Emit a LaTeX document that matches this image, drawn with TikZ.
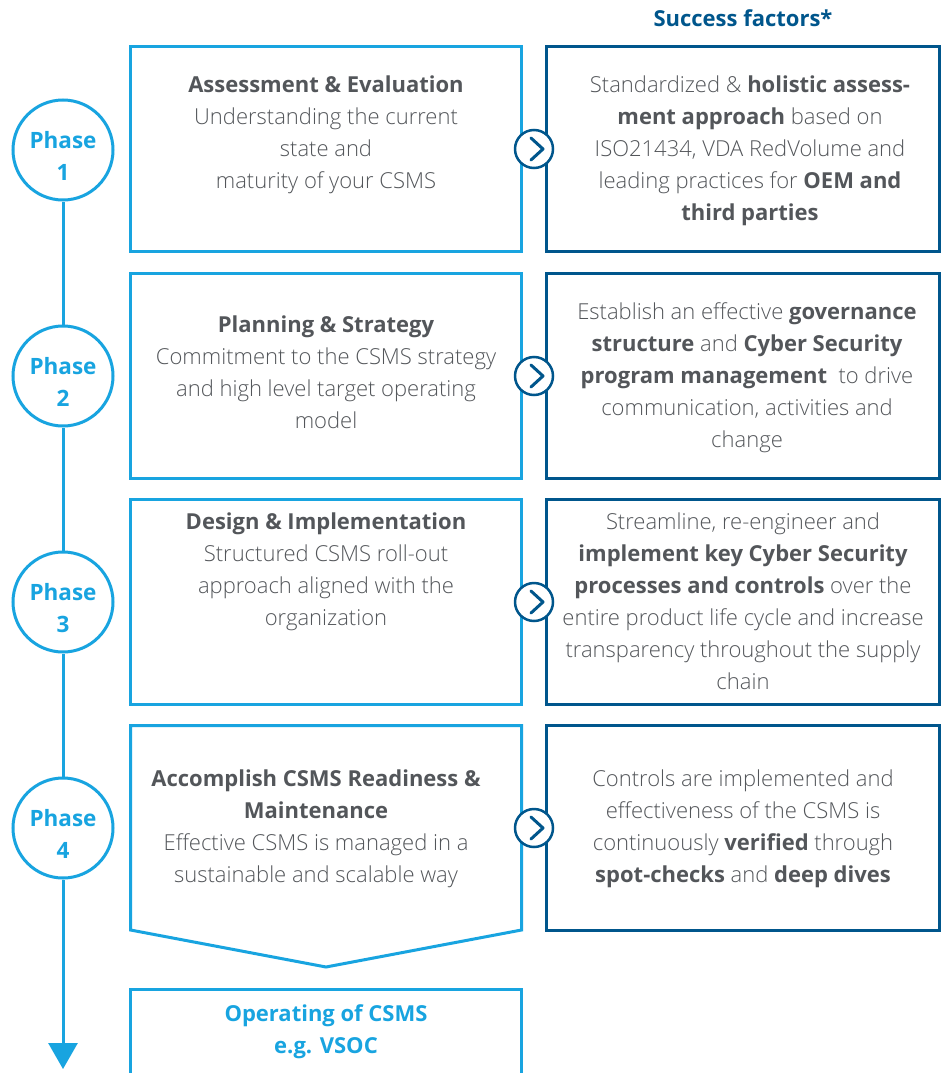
\documentclass[tikz,border=0pt]{standalone}
\usepackage{fontspec}
\setmainfont{Open Sans}
\newfontfamily\osans{Open Sans}
\IfFontExistsTF{Open Sans Light}{\newfontfamily\lightfont{Open Sans Light}}{\newfontfamily\lightfont{Open Sans}}
\newcommand\hb[1]{{\osans\bfseries #1}}
\usetikzlibrary{arrows.meta}
\definecolor{lblue}{RGB}{24,164,224}
\definecolor{dblue}{RGB}{0,86,140}
\definecolor{tgray}{RGB}{83,86,90}
\begin{document}
\begin{tikzpicture}[x=1pt,y=-1pt,
  lbox/.style={draw=lblue, line width=3pt, rectangle, minimum width=391pt, minimum height=205pt, inner sep=0pt},
  rbox/.style={draw=dblue, line width=3pt, rectangle, minimum width=393pt, minimum height=205pt, inner sep=0pt},
  txt/.style={align=center, text=tgray, font=\fontsize{22}{32}\selectfont\lightfont, inner sep=0pt},
  phase/.style={circle, draw=lblue, line width=3pt, fill=white, minimum size=100pt, inner sep=0pt},
  phasetxt/.style={align=center, text=lblue, font=\fontsize{22.5}{32}\selectfont\osans\bfseries, inner sep=0pt},
  chev/.style={circle, draw=dblue, line width=2.5pt, fill=white, minimum size=38pt, inner sep=0pt},
  chevline/.style={draw=dblue, line width=3pt, line cap=round, line join=round},
  flow/.style={draw=lblue, line width=3pt}
]
\clip (0,0) rectangle (945,1073);
\fill[white] (0,0) rectangle (945,1073);

% title
\node[text=dblue, font=\fontsize{22}{26}\selectfont\osans\bfseries, inner sep=0pt] (title) at (743,18) {Success factors*};

% left boxes
\node[lbox] (l1) at (326,149) {};
\node[lbox] (l2) at (326,376) {};
\node[lbox] (l3) at (326,602) {};
\draw[draw=lblue, line width=3pt, line join=miter] (130.5,725.5) -- (521.5,725.5) -- (521.5,930) -- (326,967) -- (130.5,930) -- cycle;
\coordinate (l4) at (326,828);
\draw[draw=lblue, line width=3pt] (130.5,1100) -- (130.5,989.5) -- (521.5,989.5) -- (521.5,1100);
\coordinate (l5) at (326,1030);

% right boxes
\node[rbox] (r1) at (743,149) {};
\node[rbox] (r2) at (743,376) {};
\node[rbox] (r3) at (743,602) {};
\node[rbox] (r4) at (743,828) {};

% phase circles and flow line
\node[phase] (p1) at (63,150) {};
\node[phase] (p2) at (63,376) {};
\node[phase] (p3) at (63,602) {};
\node[phase] (p4) at (63,828) {};
\coordinate (pend) at (63,1069);
\draw[flow] (p1.south) -- (p2.north);
\draw[flow] (p2.south) -- (p3.north);
\draw[flow] (p3.south) -- (p4.north);
\draw[flow, -{Triangle[width=29pt,length=26pt]}] (p4.south) -- (pend);

\node[phasetxt] at (63,156) {Phase\\1};
\node[phasetxt] at (63,382) {Phase\\2};
\node[phasetxt] at (63,608) {Phase\\3};
\node[phasetxt] at (63,834) {Phase\\4};

% chevrons
\foreach \n/\y in {c1/149,c2/376,c3/602,c4/828}{
  \node[chev] (\n) at (534,\y) {};
  \draw[chevline] ([shift={(-3,-11)}]\n.center) -- ([shift={(9,0)}]\n.center) -- ([shift={(-3,11)}]\n.center);
}

% left texts
\node[txt] (t1) at (326,135) {\hb{Assessment \& Evaluation}\\Understanding the current\\state and\\maturity of your CSMS};
\node[txt] (t2) at (326,372) {\hb{Planning \& Strategy}\\Commitment to the CSMS strategy\\and high level target operating\\model};
\node[txt] (t3) at (326,572) {\hb{Design \& Implementation}\\Structured CSMS roll-out\\approach aligned with the\\organization};
\node[txt] (t4) at (316,829) {\hb{Accomplish CSMS Readiness \&}\\\hb{Maintenance}\\Effective CSMS is managed in a\\sustainable and scalable way};
\node[txt, text=lblue] (t5) at (326,1032) {\hb{Operating of CSMS}\\\hb{e.g. VSOC}};

% right texts
\node[txt] (s1) at (750,151) {Standardized \& \hb{holistic assess-}\\\hb{ment approach} based on\\ISO21434, VDA RedVolume and\\leading practices for \hb{OEM and}\\\hb{third parties}};
\node[txt] (s2) at (747,378) {Establish an effective \hb{governance}\\\hb{structure} and \hb{Cyber Security}\\\hb{program management}\ \ to drive\\communication, activities and\\change};
\node[txt] (s3) at (743,601) {Streamline, re-engineer and\\\hb{implement key Cyber Security}\\\hb{processes and controls} over the\\entire product life cycle and increase\\transparency throughout the supply\\chain};
\node[txt] (s4) at (743,829) {Controls are implemented and\\effectiveness of the CSMS is\\continuously \hb{verified} through\\\hb{spot-checks} and \hb{deep dives}};
\end{tikzpicture}
\end{document}
